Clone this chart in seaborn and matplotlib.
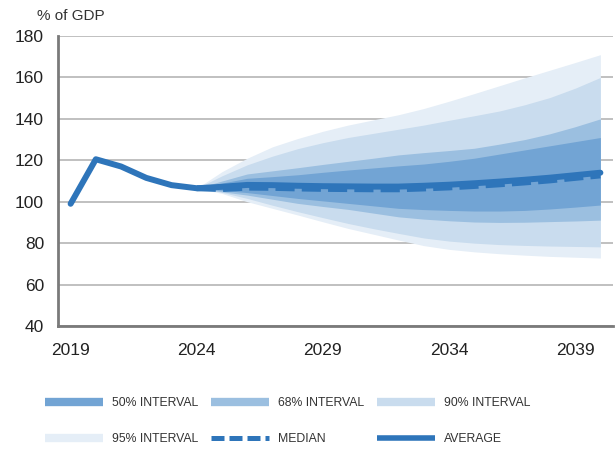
import numpy as np
import pandas as pd
import seaborn as sns
import matplotlib.pyplot as plt
from matplotlib.lines import Line2D
from matplotlib import font_manager

# historical debt (% of GDP)
years_hist = [2019, 2020, 2021, 2022, 2023]
debt_hist = [99.0, 120.5, 117.0, 111.5, 108.0]

# projection fan, 2024-2040
years_fc = list(range(2024, 2041))
average = [106.5, 107.2, 108.1, 108.0, 107.7, 107.5, 107.4, 107.3, 107.3,
           107.7, 108.2, 108.9, 109.7, 110.6, 111.6, 112.8, 114.0]
median = [106.5, 106.1, 106.8, 106.7, 106.4, 106.2, 106.1, 106.0, 106.0,
          106.4, 106.9, 107.6, 108.4, 109.3, 110.3, 111.5, 112.7]
p95_hi = [106.5, 114.5, 121.0, 126.5, 130.5, 134.0, 137.0, 139.5, 142.0,
          145.0, 148.5, 152.2, 156.0, 159.8, 163.5, 167.2, 171.0]
p90_hi = [106.5, 112.5, 117.8, 122.0, 125.6, 128.5, 131.0, 133.0, 135.0,
          137.0, 139.3, 141.5, 143.8, 146.8, 150.3, 154.8, 160.0]
p68_hi = [106.5, 110.0, 113.4, 114.9, 116.4, 118.0, 119.5, 121.0, 122.6,
          123.7, 124.7, 125.8, 127.8, 130.0, 132.8, 136.2, 140.0]
p50_hi = [106.5, 109.0, 111.3, 112.1, 113.0, 114.2, 115.3, 116.3, 117.3,
          118.2, 119.5, 121.0, 123.0, 125.0, 127.0, 129.0, 131.0]
p50_lo = [106.5, 105.5, 104.4, 103.0, 101.6, 100.4, 99.2, 98.0, 96.8,
          96.2, 95.8, 95.5, 95.5, 95.8, 96.5, 97.4, 98.4]
p68_lo = [106.5, 104.8, 103.2, 101.2, 99.2, 97.7, 96.3, 94.5, 92.7,
          91.6, 90.8, 90.2, 90.0, 90.1, 90.4, 90.7, 91.1]
p90_lo = [106.5, 104.5, 101.6, 98.3, 95.2, 92.3, 89.5, 87.0, 84.7,
          82.5, 81.0, 80.0, 79.3, 78.9, 78.6, 78.4, 78.2]
p95_lo = [106.5, 104.0, 100.0, 96.8, 93.6, 90.3, 87.1, 84.3, 81.5,
          78.8, 77.0, 75.8, 74.9, 74.2, 73.6, 73.2, 72.8]

yticks = [40, 60, 80, 100, 120, 140, 160, 180]
xlabels = [2019, 2024, 2029, 2034, 2039]

fc = pd.DataFrame({"year": years_fc, "average": average, "median": median,
                   "p95_hi": p95_hi, "p90_hi": p90_hi, "p68_hi": p68_hi, "p50_hi": p50_hi,
                   "p50_lo": p50_lo, "p68_lo": p68_lo, "p90_lo": p90_lo, "p95_lo": p95_lo})
avg_all = pd.DataFrame({"year": years_hist + years_fc, "value": debt_hist + average})

c50, c68, c90, c95 = "#72a4d4", "#9bbfe0", "#c9dcee", "#e5eef7"
c_line = "#2e75ba"

sns.set_theme(style="white")
plt.rcParams["font.family"] = ["Liberation Sans", "DejaVu Sans"]

# narrow face for the legend if there is one
installed = {f.name for f in font_manager.fontManager.ttflist}
if "Liberation Sans Narrow" in installed:
    leg_family, leg_size = ["Liberation Sans Narrow", "DejaVu Sans"], 10.5
else:
    leg_family, leg_size = ["Liberation Sans", "DejaVu Sans"], 8.8

fig = plt.figure(figsize=(6.16, 4.49), dpi=100)
ax = fig.add_axes([58 / 616, 1 - 326 / 449, (613 - 58) / 616, (326 - 36) / 449])

# bands, widest first
for lo, hi, col in [("p95_lo", "p95_hi", c95), ("p90_lo", "p90_hi", c90),
                    ("p68_lo", "p68_hi", c68), ("p50_lo", "p50_hi", c50)]:
    ax.fill_between(fc["year"], fc[lo], fc[hi], color=col, lw=0, zorder=2)

sns.lineplot(data=fc, x="year", y="median", ax=ax, color=c_line, lw=4.3,
             linestyle=(0, (3.2, 1.2)), zorder=3)
sns.lineplot(data=avg_all, x="year", y="value", ax=ax, color=c_line, lw=4.3, zorder=4)

ax.set_xlim(2018.5, 2040.5)
ax.set_ylim(40, 180)
ax.set_yticks(yticks)
ax.set_xticks(xlabels)
ax.set_xticks([x - 0.5 for x in xlabels[1:]], minor=True)
ax.set_xlabel("")
ax.set_ylabel("")
ax.yaxis.grid(True, color="#b5b5b5", lw=1.2)
ax.set_axisbelow(True)
ax.tick_params(axis="both", which="major", length=0, labelsize=12.5, labelcolor="#222222")
ax.tick_params(axis="x", which="major", pad=12)
ax.tick_params(axis="y", which="major", pad=10)
ax.tick_params(axis="x", which="minor", direction="in", length=6, width=1.2, color="#7a7a7a")
for s in ["top", "right"]:
    ax.spines[s].set_visible(False)
for s in ["left", "bottom"]:
    ax.spines[s].set_color("#7a7a7a")
    ax.spines[s].set_linewidth(2)

fig.text(37 / 616, 1 - 16 / 449, "% of GDP", fontsize=11, color="#333333", va="center")

# legend: three columns placed by hand
def band(col):
    return Line2D([], [], color=col, lw=6, solid_capstyle="butt")

cols = [
    ([band(c50), band(c95)], ["50% INTERVAL", "95% INTERVAL"], 45),
    ([band(c68), Line2D([], [], color=c_line, lw=3.6, linestyle=(0, (2.6, 1.0)))],
     ["68% INTERVAL", "MEDIAN"], 211),
    ([band(c90), Line2D([], [], color=c_line, lw=4, solid_capstyle="butt")],
     ["90% INTERVAL", "AVERAGE"], 377),
]
hl = 58 / (leg_size * 100 / 72)
for handles, labels, x0 in cols:
    leg = fig.legend(handles, labels, loc="upper left", bbox_to_anchor=(x0 / 616, 1 - 397 / 449),
                     frameon=False, prop={"family": leg_family, "size": leg_size},
                     handlelength=hl, handletextpad=9 / (leg_size * 100 / 72),
                     labelspacing=(36 - leg_size * 100 / 72) / (leg_size * 100 / 72),
                     borderpad=0, borderaxespad=0)
    for t in leg.get_texts():
        t.set_color("#333333")

fig.savefig("out.png", dpi=100)
